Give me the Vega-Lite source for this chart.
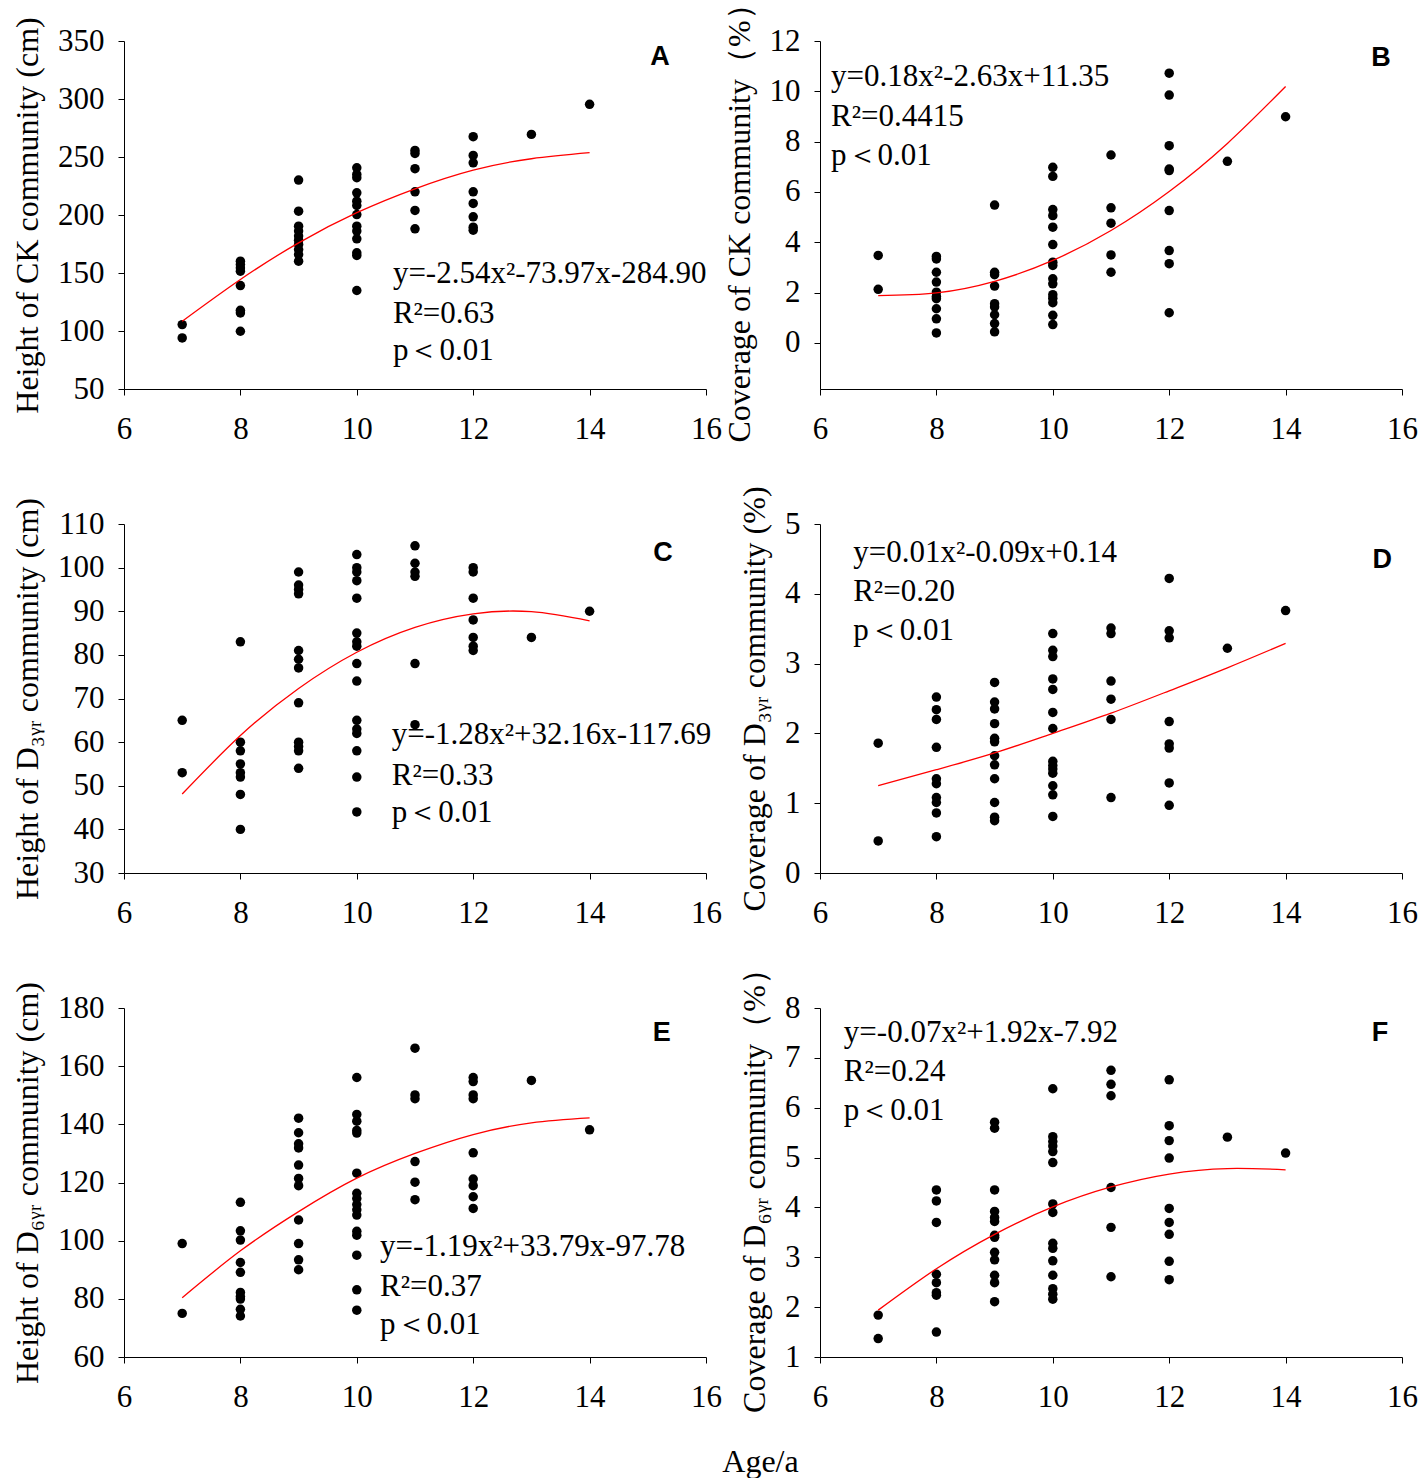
{
  "$schema": "https://vega.github.io/schema/vega-lite/v6.json",
  "background": "white",
  "padding": {"left": 11, "top": -13, "right": 5, "bottom": 5},
  "config": {
    "view": {"stroke": null},
    "axis": {
      "grid": false,
      "domainColor": "black",
      "tickColor": "black",
      "labelColor": "black",
      "titleColor": "black",
      "labelFont": "Liberation Serif",
      "labelFontSize": 31,
      "titleFont": "Liberation Serif",
      "titleFontSize": 32,
      "titleFontWeight": "normal",
      "tickSize": 6,
      "labelPadding": 14
    },
    "axisX": {"labelFlush": false, "labelPadding": 19},
    "axisY": {"titlePadding": 13},
    "circle": {"size": 90, "color": "black", "opacity": 1},
    "line": {"color": "#ff0000", "strokeWidth": 1.3, "interpolate": "natural"}
  },
  "title": {
    "text": "Age/a",
    "orient": "bottom",
    "anchor": "middle",
    "offset": 35,
    "dx": 46,
    "font": "Liberation Serif",
    "fontSize": 32,
    "fontWeight": "normal",
    "color": "black"
  },
  "datasets": {
    "ptsA": [
      {"x": 7, "y": 105.5}, {"x": 7, "y": 94},
      {"x": 8, "y": 160.2}, {"x": 8, "y": 157.3}, {"x": 8, "y": 154.4}, {"x": 8, "y": 151.6}, {"x": 8, "y": 139.2}, {"x": 8, "y": 117.9}, {"x": 8, "y": 115.6}, {"x": 8, "y": 99.8},
      {"x": 9, "y": 230.1}, {"x": 9, "y": 203.3}, {"x": 9, "y": 190.4}, {"x": 9, "y": 186.1}, {"x": 9, "y": 181.8}, {"x": 9, "y": 178.3}, {"x": 9, "y": 174.6}, {"x": 9, "y": 170.2}, {"x": 9, "y": 165.9}, {"x": 9, "y": 160.2},
      {"x": 10, "y": 240.7}, {"x": 10, "y": 235}, {"x": 10, "y": 232.1}, {"x": 10, "y": 219.1}, {"x": 10, "y": 211.9}, {"x": 10, "y": 208.2}, {"x": 10, "y": 200.4}, {"x": 10, "y": 190.4}, {"x": 10, "y": 186.1}, {"x": 10, "y": 179.5}, {"x": 10, "y": 167.4}, {"x": 10, "y": 165.1}, {"x": 10, "y": 134.9},
      {"x": 11, "y": 255.7}, {"x": 11, "y": 253.1}, {"x": 11, "y": 239.9}, {"x": 11, "y": 220}, {"x": 11, "y": 203.9}, {"x": 11, "y": 188.1},
      {"x": 12, "y": 267.5}, {"x": 12, "y": 251.4}, {"x": 12, "y": 245}, {"x": 12, "y": 220}, {"x": 12, "y": 210}, {"x": 12, "y": 198.4}, {"x": 12, "y": 189.5}, {"x": 12, "y": 186.9},
      {"x": 13, "y": 269.5},
      {"x": 14, "y": 295.4}
    ],
    "fitA": [
      {"x": 7, "y": 108.4}, {"x": 8, "y": 144.4}, {"x": 9, "y": 176}, {"x": 10, "y": 202},
      {"x": 11, "y": 222.6}, {"x": 12, "y": 238.7}, {"x": 13, "y": 248.5}, {"x": 14, "y": 253.7}
    ],
    "txtA": [
      {"x": 10.62, "y": 149, "label": "y=-2.54x²-73.97x-284.90"},
      {"x": 10.62, "y": 115, "label": "R²=0.63"},
      {"x": 10.62, "y": 83, "label": "p＜0.01"},
      {"x": 15.21, "y": 336, "label": "A", "tag": true}
    ],
    "ptsB": [
      {"x": 7, "y": 3.48}, {"x": 7, "y": 2.13},
      {"x": 8, "y": 3.44}, {"x": 8, "y": 3.34}, {"x": 8, "y": 2.81}, {"x": 8, "y": 2.42}, {"x": 8, "y": 2.02}, {"x": 8, "y": 1.85}, {"x": 8, "y": 1.76}, {"x": 8, "y": 1.36}, {"x": 8, "y": 0.96}, {"x": 8, "y": 0.4},
      {"x": 9, "y": 5.48}, {"x": 9, "y": 2.81}, {"x": 9, "y": 2.71}, {"x": 9, "y": 2.26}, {"x": 9, "y": 1.56}, {"x": 9, "y": 1.43}, {"x": 9, "y": 1.12}, {"x": 9, "y": 0.77}, {"x": 9, "y": 0.44},
      {"x": 10, "y": 6.98}, {"x": 10, "y": 6.62}, {"x": 10, "y": 5.3}, {"x": 10, "y": 5.06}, {"x": 10, "y": 4.6}, {"x": 10, "y": 3.91}, {"x": 10, "y": 3.21}, {"x": 10, "y": 3.08}, {"x": 10, "y": 2.55}, {"x": 10, "y": 2.35}, {"x": 10, "y": 1.92}, {"x": 10, "y": 1.78}, {"x": 10, "y": 1.6}, {"x": 10, "y": 1.1}, {"x": 10, "y": 0.73},
      {"x": 11, "y": 7.47}, {"x": 11, "y": 5.37}, {"x": 11, "y": 4.76}, {"x": 11, "y": 3.5}, {"x": 11, "y": 2.81},
      {"x": 12, "y": 10.72}, {"x": 12, "y": 9.85}, {"x": 12, "y": 7.84}, {"x": 12, "y": 6.91}, {"x": 12, "y": 6.85}, {"x": 12, "y": 5.26}, {"x": 12, "y": 3.67}, {"x": 12, "y": 3.15}, {"x": 12, "y": 1.2},
      {"x": 13, "y": 7.22},
      {"x": 14, "y": 8.99}
    ],
    "fitB": [
      {"x": 7, "y": 1.88}, {"x": 8, "y": 1.99}, {"x": 9, "y": 2.45}, {"x": 10, "y": 3.28},
      {"x": 11, "y": 4.47}, {"x": 12, "y": 6.02}, {"x": 13, "y": 7.93}, {"x": 14, "y": 10.19}
    ],
    "txtB": [
      {"x": 6.19, "y": 10.57, "label": "y=0.18x²-2.63x+11.35"},
      {"x": 6.19, "y": 8.98, "label": "R²=0.4415"},
      {"x": 6.19, "y": 7.43, "label": "p＜0.01"},
      {"x": 15.64, "y": 11.32, "label": "B", "tag": true}
    ],
    "ptsC": [
      {"x": 7, "y": 65}, {"x": 7, "y": 53},
      {"x": 8, "y": 83}, {"x": 8, "y": 60}, {"x": 8, "y": 58}, {"x": 8, "y": 55}, {"x": 8, "y": 53}, {"x": 8, "y": 52}, {"x": 8, "y": 48}, {"x": 8, "y": 40},
      {"x": 9, "y": 99}, {"x": 9, "y": 96}, {"x": 9, "y": 95}, {"x": 9, "y": 94}, {"x": 9, "y": 81}, {"x": 9, "y": 79}, {"x": 9, "y": 77}, {"x": 9, "y": 69}, {"x": 9, "y": 60}, {"x": 9, "y": 59}, {"x": 9, "y": 58}, {"x": 9, "y": 54},
      {"x": 10, "y": 103}, {"x": 10, "y": 100}, {"x": 10, "y": 99}, {"x": 10, "y": 97}, {"x": 10, "y": 93}, {"x": 10, "y": 85}, {"x": 10, "y": 83}, {"x": 10, "y": 82}, {"x": 10, "y": 78}, {"x": 10, "y": 74}, {"x": 10, "y": 65}, {"x": 10, "y": 63}, {"x": 10, "y": 62}, {"x": 10, "y": 58}, {"x": 10, "y": 52}, {"x": 10, "y": 44},
      {"x": 11, "y": 105}, {"x": 11, "y": 101}, {"x": 11, "y": 99}, {"x": 11, "y": 98}, {"x": 11, "y": 78}, {"x": 11, "y": 64},
      {"x": 12, "y": 100}, {"x": 12, "y": 99}, {"x": 12, "y": 93}, {"x": 12, "y": 88}, {"x": 12, "y": 84}, {"x": 12, "y": 82}, {"x": 12, "y": 81},
      {"x": 13, "y": 84},
      {"x": 14, "y": 90}
    ],
    "fitC": [
      {"x": 7, "y": 48.1}, {"x": 8, "y": 61.5}, {"x": 9, "y": 72.3}, {"x": 10, "y": 80.6},
      {"x": 11, "y": 86.3}, {"x": 12, "y": 89.4}, {"x": 13, "y": 89.9}, {"x": 14, "y": 87.8}
    ],
    "txtC": [
      {"x": 10.6, "y": 61.6, "label": "y=-1.28x²+32.16x-117.69"},
      {"x": 10.6, "y": 52.2, "label": "R²=0.33"},
      {"x": 10.6, "y": 43.8, "label": "p＜0.01"},
      {"x": 15.26, "y": 103.4, "label": "C", "tag": true}
    ],
    "ptsD": [
      {"x": 7, "y": 1.86}, {"x": 7, "y": 0.46},
      {"x": 8, "y": 2.52}, {"x": 8, "y": 2.34}, {"x": 8, "y": 2.2}, {"x": 8, "y": 1.8}, {"x": 8, "y": 1.35}, {"x": 8, "y": 1.28}, {"x": 8, "y": 1.08}, {"x": 8, "y": 1.01}, {"x": 8, "y": 0.86}, {"x": 8, "y": 0.52},
      {"x": 9, "y": 2.73}, {"x": 9, "y": 2.45}, {"x": 9, "y": 2.35}, {"x": 9, "y": 2.14}, {"x": 9, "y": 1.93}, {"x": 9, "y": 1.88}, {"x": 9, "y": 1.68}, {"x": 9, "y": 1.55}, {"x": 9, "y": 1.35}, {"x": 9, "y": 1.01}, {"x": 9, "y": 0.8}, {"x": 9, "y": 0.75},
      {"x": 10, "y": 3.43}, {"x": 10, "y": 3.19}, {"x": 10, "y": 3.1}, {"x": 10, "y": 2.78}, {"x": 10, "y": 2.63}, {"x": 10, "y": 2.3}, {"x": 10, "y": 2.07}, {"x": 10, "y": 1.6}, {"x": 10, "y": 1.54}, {"x": 10, "y": 1.49}, {"x": 10, "y": 1.43}, {"x": 10, "y": 1.25}, {"x": 10, "y": 1.12}, {"x": 10, "y": 0.81},
      {"x": 11, "y": 3.51}, {"x": 11, "y": 3.43}, {"x": 11, "y": 2.75}, {"x": 11, "y": 2.49}, {"x": 11, "y": 2.2}, {"x": 11, "y": 1.08},
      {"x": 12, "y": 4.22}, {"x": 12, "y": 3.47}, {"x": 12, "y": 3.37}, {"x": 12, "y": 2.17}, {"x": 12, "y": 1.85}, {"x": 12, "y": 1.79}, {"x": 12, "y": 1.29}, {"x": 12, "y": 0.97},
      {"x": 13, "y": 3.22},
      {"x": 14, "y": 3.76}
    ],
    "fitD": [
      {"x": 7, "y": 1.25}, {"x": 8, "y": 1.48}, {"x": 9, "y": 1.72}, {"x": 10, "y": 2.0},
      {"x": 11, "y": 2.29}, {"x": 12, "y": 2.61}, {"x": 13, "y": 2.94}, {"x": 14, "y": 3.29}
    ],
    "txtD": [
      {"x": 6.57, "y": 4.58, "label": "y=0.01x²-0.09x+0.14"},
      {"x": 6.57, "y": 4.03, "label": "R²=0.20"},
      {"x": 6.57, "y": 3.47, "label": "p＜0.01"},
      {"x": 15.66, "y": 4.48, "label": "D", "tag": true}
    ],
    "ptsE": [
      {"x": 7, "y": 99}, {"x": 7, "y": 75},
      {"x": 8, "y": 113.2}, {"x": 8, "y": 103.4}, {"x": 8, "y": 100.2}, {"x": 8, "y": 92.5}, {"x": 8, "y": 89.1}, {"x": 8, "y": 82.2}, {"x": 8, "y": 80.8}, {"x": 8, "y": 79.9}, {"x": 8, "y": 76.4}, {"x": 8, "y": 74.1},
      {"x": 9, "y": 142.1}, {"x": 9, "y": 137.1}, {"x": 9, "y": 133.3}, {"x": 9, "y": 131.9}, {"x": 9, "y": 126}, {"x": 9, "y": 121.4}, {"x": 9, "y": 118.9}, {"x": 9, "y": 107.1}, {"x": 9, "y": 99}, {"x": 9, "y": 93.4}, {"x": 9, "y": 90},
      {"x": 10, "y": 156.1}, {"x": 10, "y": 143.4}, {"x": 10, "y": 141.1}, {"x": 10, "y": 137.9}, {"x": 10, "y": 137}, {"x": 10, "y": 123.2}, {"x": 10, "y": 116.3}, {"x": 10, "y": 114.5}, {"x": 10, "y": 112.4}, {"x": 10, "y": 110.6}, {"x": 10, "y": 108.8}, {"x": 10, "y": 103.2}, {"x": 10, "y": 101.9}, {"x": 10, "y": 95}, {"x": 10, "y": 83.1}, {"x": 10, "y": 76.1},
      {"x": 11, "y": 166.2}, {"x": 11, "y": 150.1}, {"x": 11, "y": 148.8}, {"x": 11, "y": 127.2}, {"x": 11, "y": 120.1}, {"x": 11, "y": 114.1},
      {"x": 12, "y": 156.1}, {"x": 12, "y": 154.7}, {"x": 12, "y": 150.1}, {"x": 12, "y": 148.8}, {"x": 12, "y": 130.2}, {"x": 12, "y": 121.2}, {"x": 12, "y": 118.9}, {"x": 12, "y": 115.1}, {"x": 12, "y": 111.1},
      {"x": 13, "y": 155.1},
      {"x": 14, "y": 138.1}
    ],
    "fitE": [
      {"x": 7, "y": 80.4}, {"x": 8, "y": 96.5}, {"x": 9, "y": 110}, {"x": 10, "y": 121.5},
      {"x": 11, "y": 130}, {"x": 12, "y": 136.5}, {"x": 13, "y": 140.5}, {"x": 14, "y": 142.2}
    ],
    "txtE": [
      {"x": 10.4, "y": 97.8, "label": "y=-1.19x²+33.79x-97.78"},
      {"x": 10.4, "y": 84, "label": "R²=0.37"},
      {"x": 10.4, "y": 71, "label": "p＜0.01"},
      {"x": 15.24, "y": 171.4, "label": "E", "tag": true}
    ],
    "ptsF": [
      {"x": 7, "y": 1.84}, {"x": 7, "y": 1.37},
      {"x": 8, "y": 4.35}, {"x": 8, "y": 4.13}, {"x": 8, "y": 3.7}, {"x": 8, "y": 2.66}, {"x": 8, "y": 2.49}, {"x": 8, "y": 2.29}, {"x": 8, "y": 2.24}, {"x": 8, "y": 1.5},
      {"x": 9, "y": 5.71}, {"x": 9, "y": 5.59}, {"x": 9, "y": 4.35}, {"x": 9, "y": 3.92}, {"x": 9, "y": 3.8}, {"x": 9, "y": 3.72}, {"x": 9, "y": 3.44}, {"x": 9, "y": 3.4}, {"x": 9, "y": 3.1}, {"x": 9, "y": 2.95}, {"x": 9, "y": 2.64}, {"x": 9, "y": 2.49}, {"x": 9, "y": 2.11},
      {"x": 10, "y": 6.38}, {"x": 10, "y": 5.42}, {"x": 10, "y": 5.32}, {"x": 10, "y": 5.23}, {"x": 10, "y": 5.12}, {"x": 10, "y": 4.9}, {"x": 10, "y": 4.07}, {"x": 10, "y": 3.9}, {"x": 10, "y": 3.28}, {"x": 10, "y": 3.18}, {"x": 10, "y": 2.93}, {"x": 10, "y": 2.64}, {"x": 10, "y": 2.37}, {"x": 10, "y": 2.26}, {"x": 10, "y": 2.16},
      {"x": 11, "y": 6.75}, {"x": 11, "y": 6.47}, {"x": 11, "y": 6.24}, {"x": 11, "y": 4.4}, {"x": 11, "y": 3.6}, {"x": 11, "y": 2.61},
      {"x": 12, "y": 6.56}, {"x": 12, "y": 5.64}, {"x": 12, "y": 5.34}, {"x": 12, "y": 4.99}, {"x": 12, "y": 3.98}, {"x": 12, "y": 3.7}, {"x": 12, "y": 3.46}, {"x": 12, "y": 2.92}, {"x": 12, "y": 2.55},
      {"x": 13, "y": 5.41},
      {"x": 14, "y": 5.09}
    ],
    "fitF": [
      {"x": 7, "y": 1.94}, {"x": 8, "y": 2.77}, {"x": 9, "y": 3.46}, {"x": 10, "y": 4.01},
      {"x": 11, "y": 4.41}, {"x": 12, "y": 4.67}, {"x": 13, "y": 4.78}, {"x": 14, "y": 4.755}
    ],
    "txtF": [
      {"x": 6.41, "y": 7.5, "label": "y=-0.07x²+1.92x-7.92"},
      {"x": 6.41, "y": 6.72, "label": "R²=0.24"},
      {"x": 6.41, "y": 5.93, "label": "p＜0.01"},
      {"x": 15.62, "y": 7.5, "label": "F", "tag": true}
    ]
  },
  "columns": 2,
  "spacing": {"row": 135, "column": 114},
  "bounds": "flush",
  "concat": [
    {
      "width": 582, "height": 348,
      "encoding": {
        "x": {"field": "x", "type": "quantitative", "scale": {"domain": [6, 16], "nice": false, "zero": false},
              "axis": {"values": [6, 8, 10, 12, 14, 16], "format": "d", "title": null}},
        "y": {"field": "y", "type": "quantitative", "scale": {"domain": [50, 350], "nice": false, "zero": false},
              "axis": {"values": [50, 100, 150, 200, 250, 300, 350]}, "title": "Height of CK community (cm)"}
      },
      "layer": [
        {"data": {"name": "ptsA"}, "mark": "circle"},
        {"data": {"name": "fitA"}, "mark": "line"},
        {"data": {"name": "txtA"}, "transform": [{"filter": "!datum.tag"}],
         "mark": {"type": "text", "align": "left", "baseline": "middle", "font": "Liberation Serif", "fontSize": 31, "color": "black"},
         "encoding": {"text": {"field": "label"}}},
        {"data": {"name": "txtA"}, "transform": [{"filter": "datum.tag"}],
         "mark": {"type": "text", "align": "center", "baseline": "middle", "font": "Liberation Sans", "fontWeight": "bold", "fontSize": 27, "color": "black"},
         "encoding": {"text": {"field": "label"}}}
      ]
    },
    {
      "width": 582, "height": 348,
      "encoding": {
        "x": {"field": "x", "type": "quantitative", "scale": {"domain": [6, 16], "nice": false, "zero": false},
              "axis": {"values": [6, 8, 10, 12, 14, 16], "format": "d", "title": null}},
        "y": {"field": "y", "type": "quantitative", "scale": {"domain": [-1.83, 12], "nice": false, "zero": false},
              "axis": {"values": [0, 2, 4, 6, 8, 10, 12]}, "title": "Coverage of CK community（%）"}
      },
      "layer": [
        {"data": {"name": "ptsB"}, "mark": "circle"},
        {"data": {"name": "fitB"}, "mark": "line"},
        {"data": {"name": "txtB"}, "transform": [{"filter": "!datum.tag"}],
         "mark": {"type": "text", "align": "left", "baseline": "middle", "font": "Liberation Serif", "fontSize": 31, "color": "black"},
         "encoding": {"text": {"field": "label"}}},
        {"data": {"name": "txtB"}, "transform": [{"filter": "datum.tag"}],
         "mark": {"type": "text", "align": "center", "baseline": "middle", "font": "Liberation Sans", "fontWeight": "bold", "fontSize": 27, "color": "black"},
         "encoding": {"text": {"field": "label"}}}
      ]
    },
    {
      "width": 582, "height": 349,
      "encoding": {
        "x": {"field": "x", "type": "quantitative", "scale": {"domain": [6, 16], "nice": false, "zero": false},
              "axis": {"values": [6, 8, 10, 12, 14, 16], "format": "d", "title": null}},
        "y": {"field": "y", "type": "quantitative", "scale": {"domain": [30, 110], "nice": false, "zero": false},
              "axis": {"values": [30, 40, 50, 60, 70, 80, 90, 100, 110]}, "title": "Height of D₃ᵧᵣ community (cm)"}
      },
      "layer": [
        {"data": {"name": "ptsC"}, "mark": "circle"},
        {"data": {"name": "fitC"}, "mark": "line"},
        {"data": {"name": "txtC"}, "transform": [{"filter": "!datum.tag"}],
         "mark": {"type": "text", "align": "left", "baseline": "middle", "font": "Liberation Serif", "fontSize": 31, "color": "black"},
         "encoding": {"text": {"field": "label"}}},
        {"data": {"name": "txtC"}, "transform": [{"filter": "datum.tag"}],
         "mark": {"type": "text", "align": "center", "baseline": "middle", "font": "Liberation Sans", "fontWeight": "bold", "fontSize": 27, "color": "black"},
         "encoding": {"text": {"field": "label"}}}
      ]
    },
    {
      "width": 582, "height": 349,
      "encoding": {
        "x": {"field": "x", "type": "quantitative", "scale": {"domain": [6, 16], "nice": false, "zero": false},
              "axis": {"values": [6, 8, 10, 12, 14, 16], "format": "d", "title": null}},
        "y": {"field": "y", "type": "quantitative", "scale": {"domain": [0, 5], "nice": false, "zero": false},
              "axis": {"values": [0, 1, 2, 3, 4, 5]}, "title": "Coverage of D₃ᵧᵣ community (%)"}
      },
      "layer": [
        {"data": {"name": "ptsD"}, "mark": "circle"},
        {"data": {"name": "fitD"}, "mark": "line"},
        {"data": {"name": "txtD"}, "transform": [{"filter": "!datum.tag"}],
         "mark": {"type": "text", "align": "left", "baseline": "middle", "font": "Liberation Serif", "fontSize": 31, "color": "black"},
         "encoding": {"text": {"field": "label"}}},
        {"data": {"name": "txtD"}, "transform": [{"filter": "datum.tag"}],
         "mark": {"type": "text", "align": "center", "baseline": "middle", "font": "Liberation Sans", "fontWeight": "bold", "fontSize": 27, "color": "black"},
         "encoding": {"text": {"field": "label"}}}
      ]
    },
    {
      "width": 582, "height": 349,
      "encoding": {
        "x": {"field": "x", "type": "quantitative", "scale": {"domain": [6, 16], "nice": false, "zero": false},
              "axis": {"values": [6, 8, 10, 12, 14, 16], "format": "d", "title": null}},
        "y": {"field": "y", "type": "quantitative", "scale": {"domain": [60, 180], "nice": false, "zero": false},
              "axis": {"values": [60, 80, 100, 120, 140, 160, 180]}, "title": "Height of D₆ᵧᵣ community (cm)"}
      },
      "layer": [
        {"data": {"name": "ptsE"}, "mark": "circle"},
        {"data": {"name": "fitE"}, "mark": "line"},
        {"data": {"name": "txtE"}, "transform": [{"filter": "!datum.tag"}],
         "mark": {"type": "text", "align": "left", "baseline": "middle", "font": "Liberation Serif", "fontSize": 31, "color": "black"},
         "encoding": {"text": {"field": "label"}}},
        {"data": {"name": "txtE"}, "transform": [{"filter": "datum.tag"}],
         "mark": {"type": "text", "align": "center", "baseline": "middle", "font": "Liberation Sans", "fontWeight": "bold", "fontSize": 27, "color": "black"},
         "encoding": {"text": {"field": "label"}}}
      ]
    },
    {
      "width": 582, "height": 349,
      "encoding": {
        "x": {"field": "x", "type": "quantitative", "scale": {"domain": [6, 16], "nice": false, "zero": false},
              "axis": {"values": [6, 8, 10, 12, 14, 16], "format": "d", "title": null}},
        "y": {"field": "y", "type": "quantitative", "scale": {"domain": [1, 8], "nice": false, "zero": false},
              "axis": {"values": [1, 2, 3, 4, 5, 6, 7, 8]}, "title": "Coverage of D₆ᵧᵣ community（%）"}
      },
      "layer": [
        {"data": {"name": "ptsF"}, "mark": "circle"},
        {"data": {"name": "fitF"}, "mark": "line"},
        {"data": {"name": "txtF"}, "transform": [{"filter": "!datum.tag"}],
         "mark": {"type": "text", "align": "left", "baseline": "middle", "font": "Liberation Serif", "fontSize": 31, "color": "black"},
         "encoding": {"text": {"field": "label"}}},
        {"data": {"name": "txtF"}, "transform": [{"filter": "datum.tag"}],
         "mark": {"type": "text", "align": "center", "baseline": "middle", "font": "Liberation Sans", "fontWeight": "bold", "fontSize": 27, "color": "black"},
         "encoding": {"text": {"field": "label"}}}
      ]
    }
  ]
}
